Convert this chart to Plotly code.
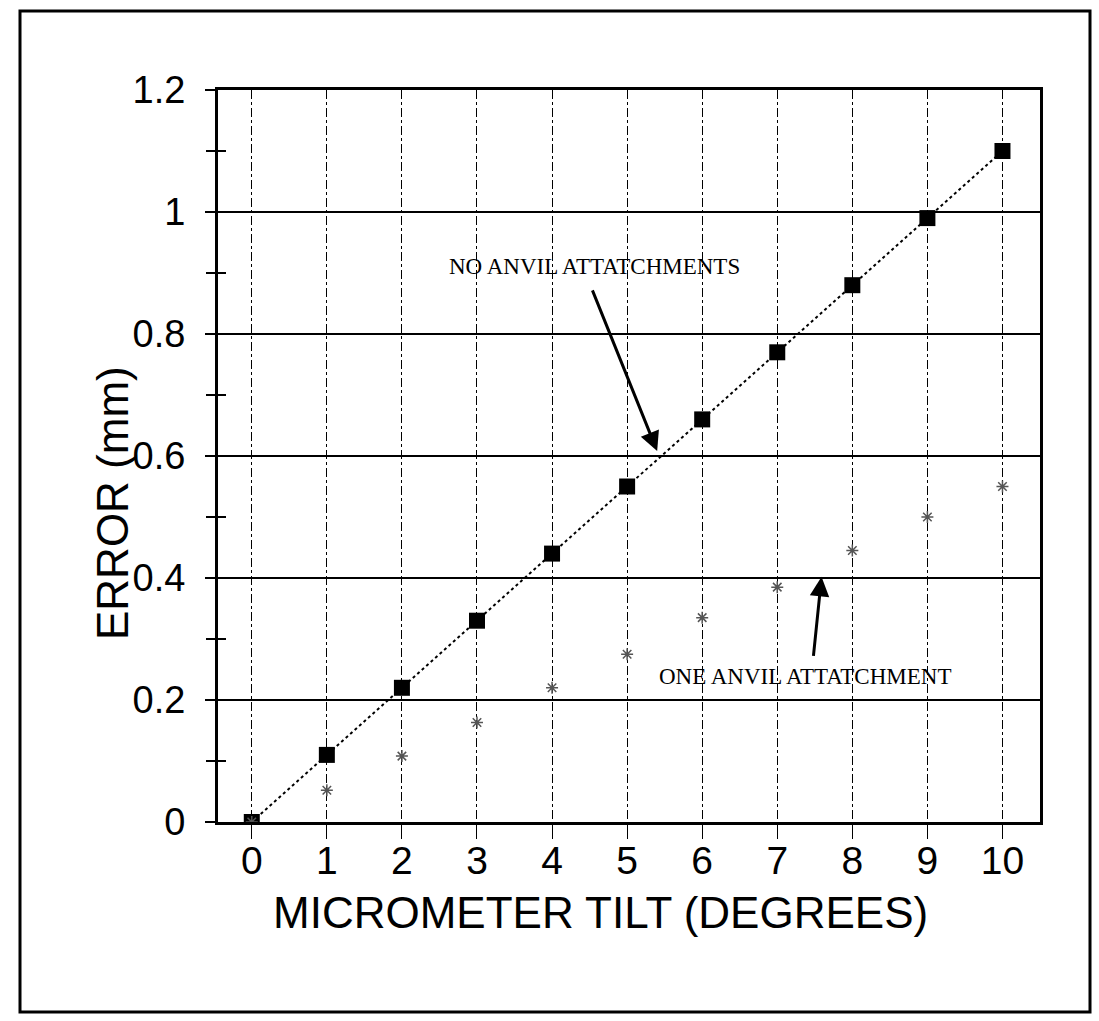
import plotly.graph_objects as go

# ---- data ----
tilt_deg = [0, 1, 2, 3, 4, 5, 6, 7, 8, 9, 10]
err_no_anvil = [0.0, 0.11, 0.22, 0.33, 0.44, 0.55, 0.66, 0.77, 0.88, 0.99, 1.10]
err_one_anvil = [0.0, 0.052, 0.108, 0.163, 0.22, 0.275, 0.335, 0.385, 0.445, 0.50, 0.55]

y_major = [0, 0.2, 0.4, 0.6, 0.8, 1.0, 1.2]
y_major_text = ["0", "0.2", "0.4", "0.6", "0.8", "1", "1.2"]
y_minor = [0.1, 0.3, 0.5, 0.7, 0.9, 1.1]
x_ticks = tilt_deg
x_ticktext = [str(v) for v in tilt_deg]

SANS = "Liberation Sans, Arial, sans-serif"
SERIF = "Liberation Serif, Times New Roman, serif"

fig = go.Figure()

fig.add_trace(go.Scatter(
    x=tilt_deg, y=err_one_anvil, mode="markers", yaxis="y2",
    marker=dict(symbol="asterisk-open", size=10, color="#555",
                line=dict(color="#555", width=1.5)),
    hoverinfo="skip", showlegend=False))

fig.add_trace(go.Scatter(
    x=tilt_deg, y=err_no_anvil, mode="lines+markers",
    line=dict(color="black", width=2, dash="dot"),
    marker=dict(symbol="square", size=16, color="black"),
    hoverinfo="skip", showlegend=False))

L, R, T, B = 218, 59, 90, 199
W, H = 1099, 1021

fig.update_layout(
    width=W, height=H,
    margin=dict(l=L, r=R, t=T, b=B, pad=0),
    paper_bgcolor="white", plot_bgcolor="white",
    showlegend=False,
    font=dict(family=SANS, color="black", size=38),
    xaxis=dict(
        range=[-0.45, 10.5], tickmode="array", tickvals=x_ticks, ticktext=x_ticktext,
        ticks="outside", ticklen=14, tickwidth=1.2, tickcolor="black",
        showgrid=True, gridcolor="black", gridwidth=1.2, griddash="dashdot",
        showline=True, linecolor="black", linewidth=3, mirror=True,
        zeroline=False, tickfont=dict(family=SANS, size=39),
        ticklabelstandoff=-12,
    ),
    yaxis=dict(
        range=[0, 1.2], tickmode="array", tickvals=y_major, ticktext=y_major_text,
        ticks="outside", ticklen=10, tickwidth=2, tickcolor="black",
        showgrid=True, gridcolor="black", gridwidth=2,
        showline=True, linecolor="black", linewidth=3, mirror=True,
        zeroline=False, tickfont=dict(family=SANS, size=38),
        ticklabelstandoff=12,
        minor=dict(tickmode="array", tickvals=y_minor, ticks="outside",
                   ticklen=9, tickwidth=2, tickcolor="black", showgrid=False),
    ),
    yaxis2=dict(
        range=[0, 1.2], overlaying="y", side="left", anchor="x",
        tickmode="array", tickvals=y_minor, ticks="inside", ticklen=8,
        tickwidth=2, tickcolor="black", showticklabels=False,
        showgrid=False, showline=False, zeroline=False,
    ),
)

def px2paper_x(px):
    return (px - L) / (W - L - R)

def px2paper_y(py):
    return (H - B - py) / (H - T - B)

# outer frame
fig.add_shape(type="rect", xref="paper", yref="paper",
              x0=px2paper_x(20), x1=px2paper_x(1090),
              y0=px2paper_y(1012), y1=px2paper_y(11),
              line=dict(color="black", width=3), fillcolor="rgba(0,0,0,0)",
              layer="above")

# axis titles
fig.add_annotation(text="ERROR (mm)", xref="paper", yref="paper",
                   x=px2paper_x(112), y=px2paper_y(503), showarrow=False,
                   textangle=-90, font=dict(family=SANS, size=44),
                   xanchor="center", yanchor="middle")
fig.add_annotation(text="MICROMETER TILT (DEGREES)", xref="paper", yref="paper",
                   x=px2paper_x(600), y=px2paper_y(912), showarrow=False,
                   font=dict(family=SANS, size=44),
                   xanchor="center", yanchor="middle")

# series labels
fig.add_annotation(text="NO ANVIL ATTATCHMENTS", x=4.56, y=0.91, xref="x", yref="y",
                   showarrow=False, font=dict(family=SERIF, size=23),
                   xanchor="center", yanchor="middle")
fig.add_annotation(text="ONE ANVIL ATTATCHMENT", x=7.37, y=0.238, xref="x", yref="y",
                   showarrow=False, font=dict(family=SERIF, size=23),
                   xanchor="center", yanchor="middle")

# arrows
fig.add_annotation(text="", x=5.40, y=0.608, ax=4.53, ay=0.874,
                   xref="x", yref="y", axref="x", ayref="y",
                   showarrow=True, arrowhead=2, arrowsize=1.3, arrowwidth=3,
                   arrowcolor="black")
fig.add_annotation(text="", x=7.59, y=0.402, ax=7.48, ay=0.270,
                   xref="x", yref="y", axref="x", ayref="y",
                   showarrow=True, arrowhead=2, arrowsize=1.3, arrowwidth=3,
                   arrowcolor="black")

fig.write_html("out.html")
